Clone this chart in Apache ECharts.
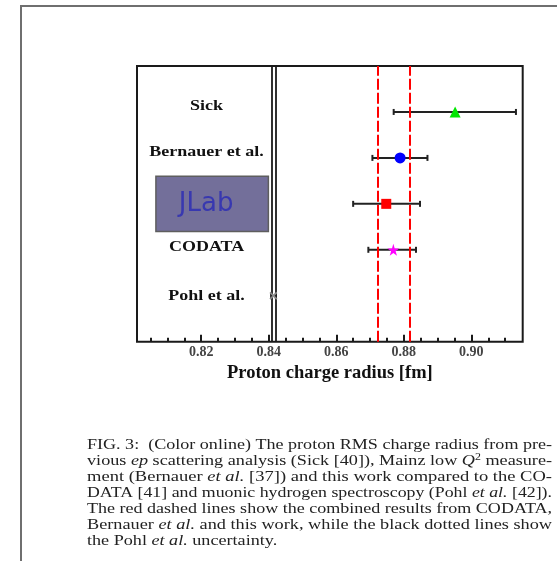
<!DOCTYPE html>
<html>
<head>
<meta charset="utf-8">
<script src="https://cdn.jsdelivr.net/npm/echarts@6/dist/echarts.min.js"></script>
<style>
html,body{margin:0;padding:0;background:#fff;}
#chart{width:557px;height:561px;}
</style>
</head>
<body>
<div id="chart"></div>
<script>
// ---- data ----
const categories = ['Sick', 'Bernauer et al.', 'JLab', 'CODATA', 'Pohl et al.'];
const yPos = [5, 4, 3, 2, 1];
const radius = [0.8952, 0.8789, 0.8748, 0.8769, 0.8414];
const errLow = [0.8770, 0.8707, 0.8650, 0.8695, 0.8407];
const errHigh = [0.9132, 0.8870, 0.8848, 0.8836, 0.8421];
const combinedBand = [0.8722, 0.8819];   // red dashed lines
const pohlBand = [0.8408, 0.8420];       // black lines (Pohl uncertainty)
const majorTicks = [0.82, 0.84, 0.86, 0.88, 0.90];
const minorTicks = [0.805, 0.81, 0.815, 0.825, 0.83, 0.835, 0.845, 0.85, 0.855, 0.865, 0.87, 0.875, 0.885, 0.89, 0.895, 0.905, 0.91];
const xRange = [0.801, 0.9152];
const yRange = [0, 6];
const xTitle = 'Proton charge radius [fm]';
const captionLines = [
  [['FIG. 3:  (Color online) The proton RMS charge radius from pre-', 'n']],
  [['vious ', 'n'], ['ep', 'i'], [' scattering analysis (Sick [40]), Mainz low ', 'n'], ['Q', 'i'], ['2', 's'], [' measure-', 'n']],
  [['ment (Bernauer ', 'n'], ['et al.', 'i'], [' [37]) and this work compared to the CO-', 'n']],
  [['DATA [41] and muonic hydrogen spectroscopy (Pohl ', 'n'], ['et al.', 'i'], [' [42]).', 'n']],
  [['The red dashed lines show the combined results from CODATA,', 'n']],
  [['Bernauer ', 'n'], ['et al.', 'i'], [' and this work, while the black dotted lines show', 'n']],
  [['the Pohl ', 'n'], ['et al.', 'i'], [' uncertainty.', 'n']]
];

// ---- styles ----
const markerStyles = [
  {symbol: 'triangle', size: 11, color: '#00e600'},
  {symbol: 'circle', size: 11, color: '#0000ff'},
  {symbol: 'rect', size: 10, color: '#ff0000'},
  {symbol: 'path://M50,0 L61,35 L98,35 L68,57 L79,91 L50,70 L21,91 L32,57 L2,35 L39,35 Z', size: 12, color: '#ff00ff'},
  {symbol: 'path://M0,1.5 L1.5,0 L5,3.5 L8.5,0 L10,1.5 L6.5,5 L10,8.5 L8.5,10 L5,6.5 L1.5,10 L0,8.5 L3.5,5 Z', size: 8, color: '#8c8c8c'}
];
const labelOffsetY = [0.12, 0.12, 0, 0.06, 0];
const labelX = 0.8216;
const serif = '"Liberation Serif", "Times New Roman", serif';

const chart = echarts.init(document.getElementById('chart'), null, {renderer: 'canvas'});

// caption lines, each stretched to justify like the original
const capFont = 14.5, capLeft = 87, capWidth = 465, capTop = 445, capLH = 16;
const cv = document.createElement('canvas').getContext('2d');
function segWidth(t, s) {
  if (s === 'i') cv.font = 'italic ' + capFont + 'px ' + serif;
  else if (s === 's') cv.font = '9.5px ' + serif;
  else cv.font = capFont + 'px ' + serif;
  return cv.measureText(t).width;
}
const capScales = captionLines.map(segs => capWidth / segs.reduce((a, [t, s]) => a + segWidth(t, s), 0));
const avgScale = capScales.slice(0, -1).reduce((a, b) => a + b, 0) / (capScales.length - 1);
const captionGraphics = captionLines.map((segs, i) => {
  const txt = segs.map(([t, s]) => '{' + s + '|' + t + '}').join('');
  const last = i === captionLines.length - 1;
  return {
    type: 'text', x: capLeft, y: capTop + i * capLH,
    scaleX: last ? avgScale : capScales[i],
    style: {
      text: txt, x: 0, y: 0, verticalAlign: 'middle', align: 'left',
      fill: '#222', font: capFont + 'px ' + serif,
      rich: {
        n: {fontFamily: serif, fontSize: capFont, color: '#222'},
        i: {fontFamily: serif, fontSize: capFont, fontStyle: 'italic', color: '#222'},
        s: {fontFamily: serif, fontSize: 9.5, color: '#222', verticalAlign: 'bottom', padding: [0, 0, 7, 0]}
      }
    }
  };
});

const errData = categories.map((c, i) => [errLow[i], errHigh[i], yPos[i]]);

const markerSeries = categories.map((c, i) => ({
  name: c, type: 'scatter', z: 5,
  symbol: markerStyles[i].symbol, symbolSize: markerStyles[i].size,
  itemStyle: {color: markerStyles[i].color, opacity: 1},
  data: [[radius[i], yPos[i]]],
  silent: true
}));

const labelData = categories.map((c, i) => ({name: c, value: [labelX, yPos[i] + labelOffsetY[i]]}))
  .filter(d => d.name !== 'JLab');

const option = {
  animation: false,
  backgroundColor: '#ffffff',
  grid: {left: 137, right: 34.3, top: 66, bottom: 219.3, show: true, borderColor: '#1a1a1a', borderWidth: 2, backgroundColor: 'transparent'},
  xAxis: [{
    type: 'value', min: xRange[0], max: xRange[1], position: 'bottom',
    name: xTitle, nameLocation: 'middle', nameGap: 22,
    nameTextStyle: {fontFamily: serif, fontWeight: 'bold', fontSize: 18.5, color: '#111'},
    axisLine: {show: false},
    splitLine: {show: false},
    axisTick: {show: true, inside: true, length: 7, customValues: majorTicks, lineStyle: {color: '#1a1a1a', width: 2}},
    axisLabel: {show: true, customValues: majorTicks, margin: 4, fontFamily: serif, fontWeight: 'bold', fontSize: 14, color: '#444',
      formatter: v => v.toFixed(2)}
  }, {
    type: 'value', min: xRange[0], max: xRange[1], position: 'bottom', offset: 0,
    axisLine: {show: false}, splitLine: {show: false}, axisLabel: {show: false},
    axisTick: {show: true, inside: true, length: 4, customValues: minorTicks, lineStyle: {color: '#1a1a1a', width: 2}}
  }],
  yAxis: {
    type: 'value', min: yRange[0], max: yRange[1],
    axisLine: {show: false}, axisTick: {show: false}, axisLabel: {show: false}, splitLine: {show: false}
  },
  graphic: [
    {type: 'rect', shape: {x: 21, y: 6, width: 600, height: 600}, style: {fill: 'none', stroke: '#6f6f6f', lineWidth: 2}, z: 100}
  ].concat(captionGraphics),
  series: [
    {
      name: 'error bars', type: 'custom', z: 2, silent: true,
      data: errData,
      encode: {x: [0, 1], y: 2},
      renderItem: function (params, api) {
        const lo = api.coord([api.value(0), api.value(2)]);
        const hi = api.coord([api.value(1), api.value(2)]);
        const h = 3, st = {stroke: '#222', lineWidth: 2};
        return {type: 'group', children: [
          {type: 'line', shape: {x1: lo[0], y1: lo[1], x2: hi[0], y2: hi[1]}, style: st},
          {type: 'line', shape: {x1: lo[0], y1: lo[1] - h, x2: lo[0], y2: lo[1] + h}, style: st},
          {type: 'line', shape: {x1: hi[0], y1: hi[1] - h, x2: hi[0], y2: hi[1] + h}, style: st}
        ]};
      },
      markLine: {
        silent: true, symbol: 'none', label: {show: false}, z: 3, precision: 6,
        data: combinedBand.map(v => ({xAxis: v, lineStyle: {color: '#ff0000', width: 2, type: [11, 3]}}))
          .concat(pohlBand.map(v => ({xAxis: v, lineStyle: {color: '#1a1a1a', width: 1.8, type: 'solid'}})))
      },
      markArea: {
        silent: true,
        itemStyle: {color: '#736f9a', borderColor: '#5e5e5e', borderWidth: 1.5},
        label: {show: true, position: 'inside', offset: [-6, 0], formatter: 'JLab', color: '#3838b0', fontSize: 26, fontFamily: '"DejaVu Sans", sans-serif'},
        data: [[{coord: [0.8066, yPos[2] + 0.6]}, {coord: [0.8399, yPos[2] - 0.6]}]]
      }
    },
    {
      name: 'labels', type: 'custom', silent: true, z: 4,
      data: labelData,
      encode: {x: 0, y: 1},
      renderItem: function (params, api) {
        const p = api.coord([api.value(0), api.value(1)]);
        return {
          type: 'text', x: p[0], y: p[1], scaleX: 1.2,
          style: {text: labelData[params.dataIndex].name, x: 0, y: 0, align: 'center', verticalAlign: 'middle',
            font: 'bold 15px ' + serif, fill: '#111'}
        };
      }
    }
  ].concat(markerSeries)
};
chart.setOption(option);
</script>
</body>
</html>
